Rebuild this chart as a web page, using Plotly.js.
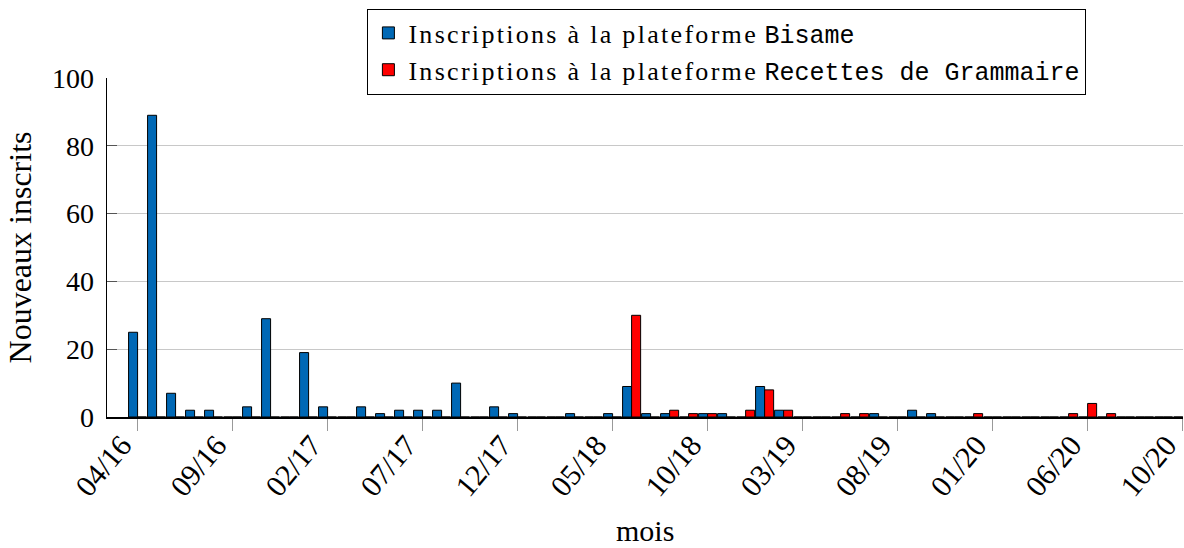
<!DOCTYPE html>
<html>
<head>
<meta charset="utf-8">
<script src="https://cdn.plot.ly/plotly-3.0.1.min.js"></script>
<style>html,body{margin:0;padding:0;background:#fff;}#chart{width:1184px;height:548px;}</style>
</head>
<body>
<div id="chart"></div>
<script>
// Months from 04/16 to 11/20 (one slot per month)
const months = ['04/16','05/16','06/16','07/16','08/16','09/16','10/16','11/16','12/16',
  '01/17','02/17','03/17','04/17','05/17','06/17','07/17','08/17','09/17','10/17','11/17','12/17',
  '01/18','02/18','03/18','04/18','05/18','06/18','07/18','08/18','09/18','10/18','11/18','12/18',
  '01/19','02/19','03/19','04/19','05/19','06/19','07/19','08/19','09/19','10/19','11/19','12/19',
  '01/20','02/20','03/20','04/20','05/20','06/20','07/20','08/20','09/20','10/20','11/20'];

const bisame = [25,89,7,2,2,0,3,29,0,
  19,3,0,3,1,2,2,2,10,0,3,1,
  0,0,1,0,1,9,1,1,0,1,1,0,
  9,2,0,0,0,0,1,0,2,1,0,0,
  0,0,0,0,0,0,0,0,0,0,0];

const recettes = [0,0,0,0,0,0,0,0,0,
  0,0,0,0,0,0,0,0,0,0,0,0,
  0,0,0,0,0,30,0,2,1,1,0,2,
  8,2,0,0,1,1,0,0,0,0,0,1,
  0,0,0,0,1,4,1,0,0,0,0];

const tickLabels = ['04/16','09/16','02/17','07/17','12/17','05/18','10/18','03/19','08/19','01/20','06/20','10/20'];
const tickMonths = ['04/16','09/16','02/17','07/17','12/17','05/18','10/18','03/19','08/19','01/20','06/20','11/20'];

const xTitle = 'mois';
const yTitle = 'Nouveaux inscrits';

const xIdx = months.map((m, i) => i);
const tickVals = tickMonths.map(m => months.indexOf(m));

const serif = 'Liberation Serif, Times New Roman, serif';
const mono = 'Liberation Mono, DejaVu Sans Mono, monospace';
const lead = '<span style="letter-spacing:2.3px">Inscriptions à la plateforme</span> ';

const traces = [
  {
    type: 'bar', x: xIdx, y: bisame,
    name: lead + '<span style="font-family:' + mono + ';font-size:25px">Bisame</span>',
    marker: {color: '#0068B5', line: {color: '#000', width: 1}}
  },
  {
    type: 'bar', x: xIdx, y: recettes,
    name: lead + '<span style="font-family:' + mono + ';font-size:25px">Recettes de Grammaire</span>',
    marker: {color: '#FF0000', line: {color: '#000', width: 1}}
  }
];

const layout = {
  width: 1184, height: 548,
  margin: {l: 107, r: 1, t: 78, b: 131, pad: 0},
  paper_bgcolor: '#fff', plot_bgcolor: '#fff',
  barmode: 'group', bargap: 0.05, bargroupgap: 0,
  font: {family: serif, size: 28, color: '#000'},
  showlegend: true,
  legend: {
    x: 0.242, y: 1.205, xanchor: 'left', yanchor: 'top',
    bordercolor: '#000', borderwidth: 1, bgcolor: '#fff',
    font: {family: serif, size: 26, color: '#000'},
    tracegroupgap: 0, itemwidth: 30
  },
  xaxis: {
    range: [-1.61, 55.02], tickmode: 'array', tickvals: tickVals, ticktext: tickLabels,
    tickangle: -50, ticks: 'outside', ticklen: 12, tickcolor: '#999', tickwidth: 1.5,
    showline: true, linecolor: '#000', linewidth: 1.5, showgrid: false, zeroline: false,
    ticklabelstandoff: -15, ticklabelshift: -16, ticklabeloverflow: 'allow',
    tickfont: {family: serif, size: 30, color: '#000'}
  },
  yaxis: {
    range: [0, 100], tickmode: 'array', tickvals: [0,20,40,60,80,100],
    ticks: 'inside', ticklen: 10, tickcolor: '#555', tickwidth: 1,
    showline: true, linecolor: '#000', linewidth: 1.5,
    showgrid: true, gridcolor: '#c8c8c8', gridwidth: 1, zeroline: false,
    ticklabelstandoff: 6,
    tickfont: {family: serif, size: 28, color: '#000'},
    title: {text: yTitle, font: {family: serif, size: 32, color: '#000'}, standoff: 10}
  },
  annotations: [{
    text: xTitle, xref: 'paper', yref: 'paper', x: 0.5, y: -0.386,
    xanchor: 'center', yanchor: 'bottom', showarrow: false, borderpad: 0,
    font: {family: serif, size: 30, color: '#000'}
  }]
};

Plotly.newPlot('chart', traces, layout, {displayModeBar: false, staticPlot: true});
</script>
</body>
</html>
